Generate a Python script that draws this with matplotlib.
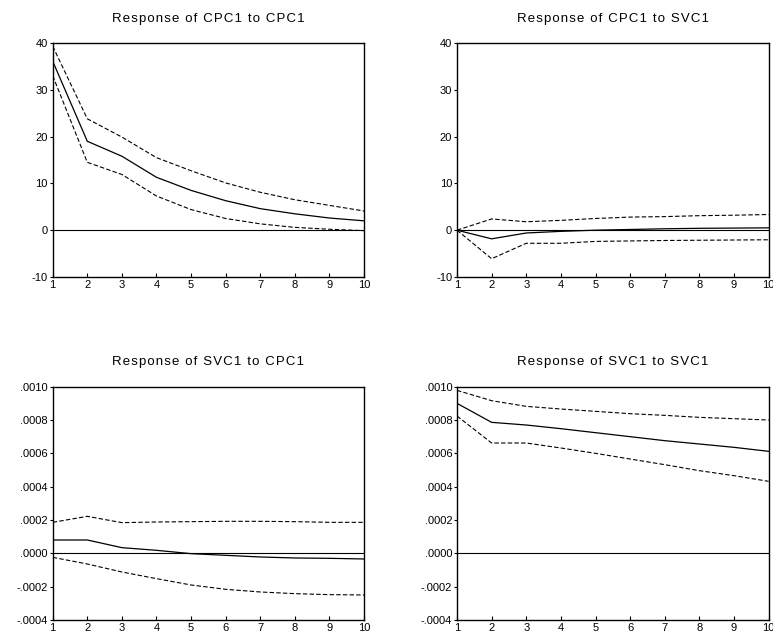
import matplotlib
matplotlib.use("Agg")
import matplotlib.pyplot as plt
import numpy as np

plt.rcParams["font.family"] = ["Liberation Sans", "DejaVu Sans"]

periods = np.arange(1, 11)

# Response of CPC1 to CPC1
cc_mid = [36.1, 19.0, 15.8, 11.3, 8.5, 6.3, 4.6, 3.5, 2.6, 2.0]
cc_hi = [39.3, 23.8, 19.9, 15.5, 12.7, 10.1, 8.1, 6.5, 5.3, 4.1]
cc_lo = [33.0, 14.5, 11.9, 7.3, 4.4, 2.5, 1.35, 0.6, 0.2, -0.1]

# Response of CPC1 to SVC1
cs_mid = [0.0, -1.85, -0.6, -0.25, 0.0, 0.15, 0.3, 0.4, 0.45, 0.5]
cs_hi = [0.0, 2.4, 1.8, 2.1, 2.5, 2.8, 2.9, 3.1, 3.2, 3.35]
cs_lo = [0.0, -6.1, -2.8, -2.8, -2.4, -2.3, -2.2, -2.15, -2.1, -2.05]

# Response of SVC1 to CPC1
sc_mid = [0.00008, 0.00008, 0.000034, 0.000018, -0.000002, -0.000012,
          -0.000022, -0.000028, -0.00003, -0.000034]
sc_hi = [0.000186, 0.000222, 0.000184, 0.000188, 0.00019, 0.000192,
         0.000192, 0.00019, 0.000186, 0.000186]
sc_lo = [-0.000024, -0.000064, -0.000112, -0.000152, -0.00019, -0.000216,
         -0.000232, -0.000242, -0.000248, -0.00025]

# Response of SVC1 to SVC1
ss_mid = [0.0009, 0.000786, 0.00077, 0.000748, 0.000724, 0.0007,
          0.000676, 0.000656, 0.000636, 0.000612]
ss_hi = [0.000978, 0.000916, 0.000882, 0.000866, 0.000852, 0.000838,
         0.000828, 0.000816, 0.000808, 0.0008]
ss_lo = [0.000824, 0.000662, 0.000662, 0.000632, 0.0006, 0.000566,
         0.000532, 0.000496, 0.000466, 0.000432]

titles = ["Response of CPC1 to CPC1", "Response of CPC1 to SVC1",
          "Response of SVC1 to CPC1", "Response of SVC1 to SVC1"]

cpc_ticks = [-10, 0, 10, 20, 30, 40]
cpc_labels = ["-10", "0", "10", "20", "30", "40"]
svc_ticks = [-0.0004, -0.0002, 0.0, 0.0002, 0.0004, 0.0006, 0.0008, 0.0010]
svc_labels = ["-.0004", "-.0002", ".0000", ".0002", ".0004", ".0006", ".0008", ".0010"]

panels = [
    (cc_mid, cc_hi, cc_lo, cpc_ticks, cpc_labels),
    (cs_mid, cs_hi, cs_lo, cpc_ticks, cpc_labels),
    (sc_mid, sc_hi, sc_lo, svc_ticks, svc_labels),
    (ss_mid, ss_hi, ss_lo, svc_ticks, svc_labels),
]

# axes boxes in figure fractions: left, bottom, width, height
boxes = [
    [0.0682, 0.5645, 0.4027, 0.3679],
    [0.5912, 0.5645, 0.4032, 0.3679],
    [0.0682, 0.0252, 0.4027, 0.3668],
    [0.5912, 0.0252, 0.4032, 0.3668],
]
title_y = [0.970, 0.970, 0.431, 0.431]


def tracked(s):
    # wide letter spacing like the original EViews titles
    return "\u200a".join(s)


fig = plt.figure(figsize=(7.73, 6.36), dpi=100)

for (mid, hi, lo, yt, yl), box, title, ty in zip(panels, boxes, titles, title_y):
    ax = fig.add_axes(box)
    ax.axhline(0, color="black", lw=0.8)
    ax.plot(periods, mid, color="black", lw=0.9)
    ax.plot(periods, hi, color="black", lw=0.8, ls=(0, (4, 2)))
    ax.plot(periods, lo, color="black", lw=0.8, ls=(0, (4, 2)))
    ax.set_xlim(1, 10)
    ax.set_ylim(yt[0], yt[-1])
    ax.set_xticks(periods)
    ax.set_xticklabels([str(p) for p in periods])
    ax.set_yticks(yt)
    ax.set_yticklabels(yl)
    ax.tick_params(axis="x", direction="in", length=3, width=0.8, pad=2, labelsize=8)
    ax.tick_params(axis="y", direction="out", length=2, width=0.8, pad=1.5, labelsize=8)
    for s in ax.spines.values():
        s.set_linewidth(1.0)
    fig.text(box[0] + box[2] / 2, ty, tracked(title), ha="center", va="center",
             fontsize=9.5, family=["Liberation Sans", "DejaVu Sans"])

fig.savefig("out.png", dpi=100)
